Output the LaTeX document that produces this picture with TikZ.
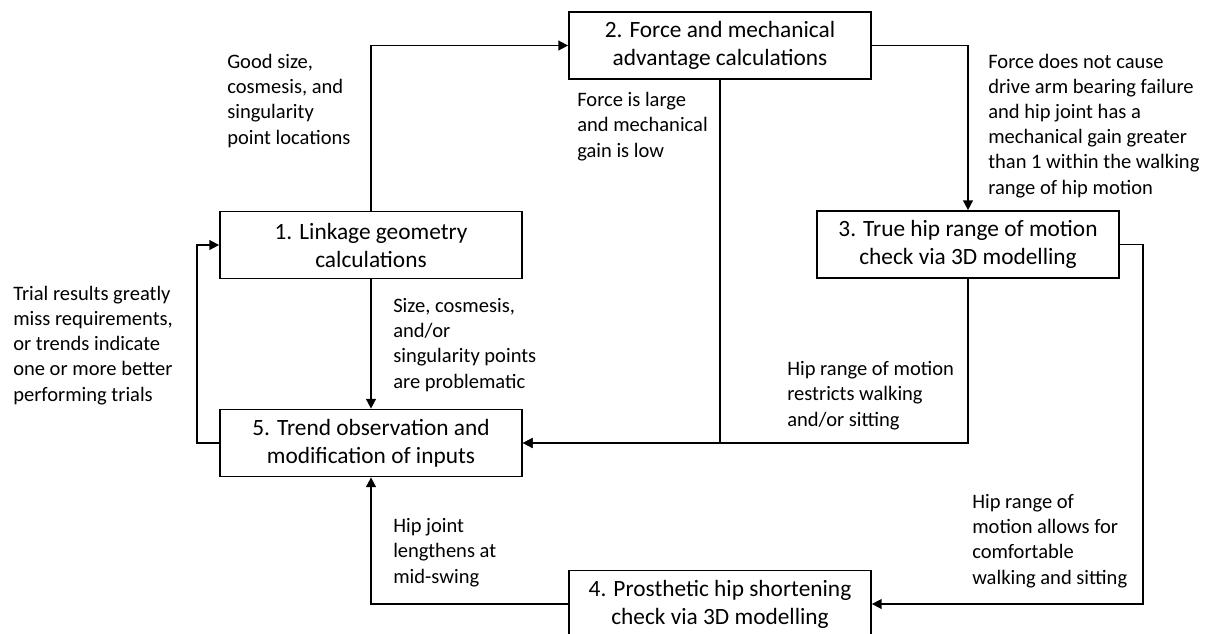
\documentclass[tikz,border=0pt]{standalone}
\usepackage{fontspec}
\setmainfont{Carlito}
\usetikzlibrary{arrows.meta}

\begin{document}
\begin{tikzpicture}[x=0.025cm,y=-0.025cm,
  box/.style={draw,line width=1.2pt,minimum width=7.55cm,minimum height=1.675cm,
    align=center,inner sep=0pt,font=\fontsize{16.6}{19.9}\selectfont},
  note/.style={anchor=base west,align=left,inner sep=0pt,
    font=\fontsize{14.6}{17.8}\selectfont},
  flow/.style={line width=1.2pt,-{Triangle[length=7pt,width=7pt]}}]
\useasboundingbox (0,0) rectangle (1212,633);

% the five steps
\node[box] (linkage) at (371,245) {1. Linkage geometry\\calculations};
\node[box] (force) at (720,45.5) {2. Force and mechanical\\advantage calculations};
\node[box] (rom) at (968,244.5) {3. True hip range of motion\\check via 3D modelling};
\node[box] (shorten) at (720,604) {4. Prosthetic hip shortening\\check via 3D modelling};
\node[box] (trend) at (371,443) {5. Trend observation and\\modification of inputs};

\coordinate (loopL) at (197,443);
\coordinate (loopR) at (1143,244.5);

% connectors
\draw[flow] (linkage.north) |- (force.west);
\draw[flow] (force.east) -| (rom.north);
\draw[flow] (linkage.south) -- (trend.north);
\draw[flow] (force.south) |- (trend.east);
\draw[flow] (rom.south) |- (trend.east);
\draw[flow] (rom.east) -- (loopR) |- (shorten.east);
\draw[flow] (shorten.west) -| (trend.south);
\draw[flow] (trend.west) -- (loopL) |- (linkage.west);

% conditions (placed at the baseline of their last line)
\node[note] (good) at (227,144) {Good size,\\cosmesis, and\\singularity\\point locations};
\node[note] (large) at (577,157) {Force is large\\and mechanical\\gain is low};
\node[note] (nofail) at (988,194) {Force does not cause\\drive arm bearing failure\\and hip joint has a\\mechanical gain greater\\than 1 within the walking\\range of hip motion};
\node[note] (trial) at (13,401) {Trial results greatly\\miss requirements,\\or trends indicate\\one or more better\\performing trials};
\node[note] (size) at (393,388) {Size, cosmesis,\\and/or\\singularity points\\are problematic};
\node[note] (restrict) at (787,426) {Hip range of motion\\restricts walking\\and/or sitting};
\node[note] (allow) at (972,584) {Hip range of\\motion allows for\\comfortable\\walking and sitting};
\node[note] (lengthen) at (393,583) {Hip joint\\lengthens at\\mid-swing};
\end{tikzpicture}
\end{document}
